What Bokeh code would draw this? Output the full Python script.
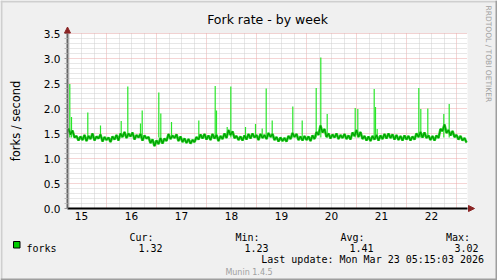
from math import pi
from bokeh.plotting import figure
from bokeh.models import (FixedTicker, PrintfTickFormatter, Label, Arrow,
                          NormalHead, BoxAnnotation)
from bokeh.embed import file_html
from bokeh.resources import INLINE

# ---------------- data ----------------
# baseline rate, one sample every 0.04 day (about one hour)
forks_body = [
    1.60, 1.48, 1.56, 1.42, 1.45, 1.36, 1.44, 1.37, 1.47, 1.35,
    1.45, 1.39, 1.50, 1.36, 1.44, 1.40, 1.48, 1.34, 1.43, 1.37,
    1.42, 1.33, 1.44, 1.38, 1.47, 1.36, 1.50, 1.43, 1.53, 1.41,
    1.50, 1.44, 1.52, 1.38, 1.47, 1.42, 1.49, 1.36, 1.46, 1.40,
    1.43, 1.31, 1.38, 1.25, 1.36, 1.29, 1.41, 1.30, 1.40, 1.35,
    1.49, 1.39, 1.46, 1.41, 1.48, 1.35, 1.44, 1.33, 1.40, 1.31,
    1.39, 1.30, 1.37, 1.33, 1.43, 1.38, 1.48, 1.40, 1.49, 1.38,
    1.46, 1.37, 1.49, 1.40, 1.47, 1.35, 1.45, 1.39, 1.50, 1.41,
    1.57, 1.47, 1.54, 1.41, 1.45, 1.37, 1.44, 1.36, 1.46, 1.38,
    1.49, 1.40, 1.50, 1.42, 1.47, 1.37, 1.49, 1.41, 1.47, 1.39,
    1.51, 1.43, 1.49, 1.37, 1.43, 1.34, 1.42, 1.35, 1.41, 1.34,
    1.45, 1.39, 1.51, 1.43, 1.49, 1.37, 1.44, 1.36, 1.45, 1.37,
    1.44, 1.35, 1.46, 1.39, 1.53, 1.47, 1.66, 1.52, 1.59, 1.43,
    1.50, 1.40, 1.48, 1.42, 1.50, 1.39, 1.47, 1.41, 1.49, 1.39,
    1.46, 1.38, 1.52, 1.45, 1.57, 1.43, 1.53, 1.39, 1.45, 1.36,
    1.44, 1.35, 1.45, 1.38, 1.47, 1.36, 1.46, 1.39, 1.49, 1.40,
    1.50, 1.41, 1.48, 1.38, 1.47, 1.37, 1.45, 1.36, 1.46, 1.38,
    1.45, 1.36, 1.44, 1.38, 1.50, 1.43, 1.53, 1.42, 1.52, 1.41,
    1.46, 1.37, 1.45, 1.36, 1.46, 1.41, 1.59, 1.55, 1.68, 1.51,
    1.57, 1.46, 1.55, 1.43, 1.47, 1.38, 1.45, 1.36, 1.41, 1.32,
]
t_start = 14.72          # day-of-month at the left edge of the graph
t_end = 22.72
t_step = 0.04
times = [t_start + t_step * (i + 0.5) for i in range(len(forks_body))]

# short peaks (day-of-month, peak rate)
spike_times = [14.766, 14.80, 15.126, 15.38, 15.794, 15.926, 16.18, 16.214,
               16.546, 16.586, 16.80, 17.346, 17.674, 17.70, 17.914, 17.986,
               18.28, 18.48, 18.614, 18.694, 18.814, 19.226, 19.414, 19.694,
               19.786, 19.914, 20.474, 20.526, 20.854, 20.88, 20.914, 21.746,
               21.786, 21.926, 22.246, 22.354]
spike_peaks = [2.49, 1.83, 1.92, 1.66, 1.75, 2.44, 1.70, 1.96,
               2.32, 1.90, 1.73, 1.76, 2.45, 1.96, 1.63, 2.44,
               1.63, 1.69, 1.60, 2.40, 1.76, 2.04, 1.76, 2.41,
               3.02, 1.89, 2.01, 1.99, 2.39, 2.03, 1.59, 2.41,
               1.99, 2.00, 1.89, 2.09]
spike_base = 1.42

day_ticks = [15, 16, 17, 18, 19, 20, 21, 22]
day_grid = [15.5, 16.5, 17.5, 18.5, 19.5, 20.5, 21.5, 22.5]
y_ticks = [0.0, 0.5, 1.0, 1.5, 2.0, 2.5, 3.0, 3.5]
y_min, y_max = 0.0, 3.5

title_text = "Fork rate - by week"
y_label = "forks / second"
series_name = "forks"
legend_heads = ["Cur:", "Min:", "Avg:", "Max:"]
legend_vals = ["1.32", "1.23", "1.41", "3.02"]
last_update = "Last update: Mon Mar 23 05:15:03 2026"
version_text = "Munin 1.4.5"
side_text = "RRDTOOL / TOBI OETIKER"

# ---------------- layout helpers (page pixels -> data) ----------------
W, H = 497, 280
PX_PER_DAY = 50.0
PX_PER_UNIT = 50.0
FRAME_LEFT = 67
FRAME_BOTTOM = 208


def dx(px):
    return t_start + (px - FRAME_LEFT) / PX_PER_DAY


def dy(py):
    return (FRAME_BOTTOM - py) / PX_PER_UNIT


p = figure(width=W, height=H, output_backend="svg", toolbar_location=None,
           x_range=(dx(0), dx(W)), y_range=(dy(H), dy(0)), title=None,
           min_border=0, min_border_left=0, min_border_right=0,
           min_border_top=0, min_border_bottom=0)
p.background_fill_color = "#f0f0f0"
p.border_fill_color = "#f0f0f0"
p.outline_line_color = None

# 3-D frame of the image
for (l, r, t, b, c) in [(0, W, 0, 2, "#cfcfcf"), (0, 2, 0, H, "#cfcfcf"),
                        (0, W, H - 2, H, "#9e9e9e"), (W - 2, W, 0, H, "#9e9e9e")]:
    p.add_layout(BoxAnnotation(left=dx(l), right=dx(r), top=dy(t), bottom=dy(b),
                               fill_color=c, fill_alpha=1, line_color=None))

# white canvas of the graph
p.add_layout(BoxAnnotation(left=t_start, right=t_end, bottom=y_min, top=y_max,
                           fill_color="#ffffff", fill_alpha=1, line_color=None,
                           level="image"))

# grids
minor_x = [round((t_start + 0.03 + 0.25 * k) * 4) / 4 for k in range(33)]
minor_x = [v for v in minor_x if t_start < v < t_end and v not in day_grid]
minor_y = [round(0.1 * k, 1) for k in range(1, 35)]
minor_y = [v for v in minor_y if v not in y_ticks]

p.xgrid.ticker = FixedTicker(ticks=day_grid, minor_ticks=minor_x)
p.ygrid.ticker = FixedTicker(ticks=y_ticks[1:], minor_ticks=minor_y)
p.xgrid.bounds = (t_start, t_end)
p.xgrid.cross_bounds = (y_min, y_max)
p.ygrid.bounds = (y_min, y_max)
p.ygrid.cross_bounds = (t_start, t_end)
for g in (p.xgrid, p.ygrid):
    g.grid_line_color = "#eaaaaa"
    g.grid_line_dash = "1 1"
    g.grid_line_width = 1
    g.minor_grid_line_color = "#cfcfcf"
    g.minor_grid_line_dash = "1 1"
    g.minor_grid_line_width = 1

# axes drawn at fixed data locations
xa = p.xaxis[0]
xa.fixed_location = y_min
xa.bounds = (t_start, t_end)
xa.ticker = FixedTicker(ticks=day_ticks)
xa.axis_line_color = "#000000"
xa.axis_line_width = 2
xa.major_tick_out = 0
xa.major_tick_in = 0
xa.minor_tick_out = 0
xa.minor_tick_in = 0
xa.major_label_standoff = 3
xa.major_label_text_font = "DejaVu Sans"
xa.major_label_text_font_size = "10.5px"
xa.major_label_text_color = "#000000"

ya = p.yaxis[0]
ya.fixed_location = t_start
ya.bounds = (y_min, y_max)
ya.ticker = FixedTicker(ticks=y_ticks, minor_ticks=minor_y)
ya.formatter = PrintfTickFormatter(format="%.1f")
ya.axis_line_color = "#666666"
ya.axis_line_width = 2
ya.major_tick_out = 3
ya.major_tick_in = 0
ya.minor_tick_out = 3
ya.minor_tick_in = 0
ya.major_tick_line_color = "#999999"
ya.minor_tick_line_color = "#bbbbbb"
ya.major_label_standoff = 4
ya.major_label_text_font = "DejaVu Sans"
ya.major_label_text_font_size = "10.5px"
ya.major_label_text_color = "#000000"

# data
p.segment(x0=spike_times, y0=[spike_base] * len(spike_times),
          x1=spike_times, y1=spike_peaks, line_color="#2ae62a", line_width=1.2)
p.line(times, forks_body, line_color="#33d633", line_width=2.6)
p.line(times, forks_body, line_color="#00a000", line_width=1.2)

# axis arrows
arrow_col = "#8b2424"
p.add_layout(Arrow(x_start=t_start, y_start=3.45, x_end=t_start, y_end=dy(26.5),
                   line_alpha=0,
                   end=NormalHead(size=6, fill_color=arrow_col, line_color=arrow_col)))
p.add_layout(Arrow(x_start=t_end - 0.05, y_start=y_min, x_end=dx(474), y_end=y_min,
                   line_alpha=0,
                   end=NormalHead(size=6, fill_color=arrow_col, line_color=arrow_col)))

# texts
p.add_layout(Label(x=dx(267), y=dy(18.5), text=title_text, text_align="center",
                   text_baseline="alphabetic", text_font="DejaVu Sans",
                   text_font_size="12.5px", text_color="#000000"))
p.add_layout(Label(x=dx(15.5), y=dy(120.5), text=y_label, angle=pi / 2,
                   text_align="center", text_baseline="alphabetic",
                   text_font="DejaVu Sans", text_font_size="11.5px",
                   text_color="#000000"))
p.add_layout(Label(x=dx(488), y=dy(5), text=side_text, angle=-pi / 2,
                   text_align="left", text_baseline="middle",
                   text_font="DejaVu Sans", text_font_size="7.5px",
                   text_color="#a0a0a0"))

mono = "DejaVu Sans Mono"
p.add_layout(BoxAnnotation(left=dx(13), right=dx(19.5), top=dy(241), bottom=dy(247.5),
                           fill_color="#00cc00", fill_alpha=1,
                           line_color="#000000", line_alpha=1, line_width=1))
p.add_layout(Label(x=dx(26), y=dy(247.7), text=series_name, text_align="left",
                   text_baseline="alphabetic", text_font=mono,
                   text_font_size="10px", text_color="#000000"))
head_right = [153, 259, 364, 469.5]
val_right = [162, 268, 373, 478]
for h, v, hr, vr in zip(legend_heads, legend_vals, head_right, val_right):
    p.add_layout(Label(x=dx(hr), y=dy(236.7), text=h, text_align="right",
                       text_baseline="alphabetic", text_font=mono,
                       text_font_size="10px", text_color="#000000"))
    p.add_layout(Label(x=dx(vr), y=dy(247.7), text=v, text_align="right",
                       text_baseline="alphabetic", text_font=mono,
                       text_font_size="10px", text_color="#000000"))
p.add_layout(Label(x=dx(483.5), y=dy(259.3), text=last_update, text_align="right",
                   text_baseline="alphabetic", text_font=mono,
                   text_font_size="10px", text_color="#000000"))
p.add_layout(Label(x=dx(248.5), y=dy(272.3), text=version_text, text_align="center",
                   text_baseline="alphabetic", text_font="DejaVu Sans",
                   text_font_size="8px", text_color="#a0a0a0"))

open("out.html", "w").write(file_html(p, INLINE))
